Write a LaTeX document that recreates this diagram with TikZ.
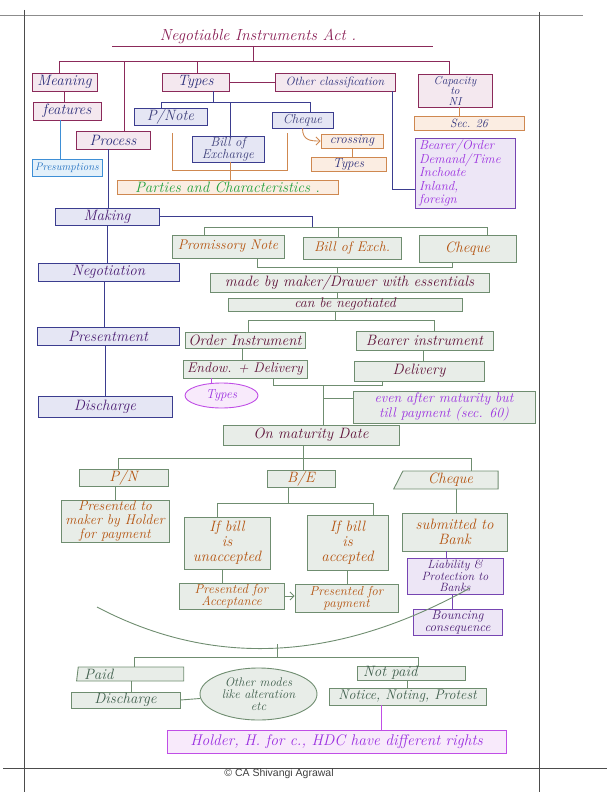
\documentclass[tikz,border=0pt]{standalone}
\usepackage{fontspec}
\newfontfamily\copyfont{Liberation Sans}
\usetikzlibrary{arrows.meta, shapes.geometric}
\definecolor{maroonline}{HTML}{8B2A5A}
\definecolor{pinkfill}{HTML}{F4E8EF}
\definecolor{navyline}{HTML}{3B3D8F}
\definecolor{bluefill}{HTML}{E5E6F4}
\definecolor{navytext}{HTML}{2B2E7A}
\definecolor{slatetext}{HTML}{3D3F7A}
\definecolor{orangeline}{HTML}{CF8850}
\definecolor{orangefill}{HTML}{FBEDE2}
\definecolor{greenline}{HTML}{6F8D70}
\definecolor{greenfill}{HTML}{E8EDE8}
\definecolor{browntext}{HTML}{B4530F}
\definecolor{wine}{HTML}{5E1238}
\definecolor{violettext}{HTML}{9B2FE0}
\definecolor{purpleline}{HTML}{7645B2}
\definecolor{purplefill}{HTML}{EDE6F6}
\definecolor{inkpurple}{HTML}{4A1C72}
\definecolor{skyline}{HTML}{3E8FD6}
\definecolor{skyfill}{HTML}{E3F0FA}
\definecolor{skytext}{HTML}{1E6EC0}
\definecolor{leaf}{HTML}{22A03A}
\definecolor{magline}{HTML}{C04EE6}
\definecolor{magfill}{HTML}{F8EAFB}
\definecolor{mossy}{HTML}{3F5E4C}
\definecolor{titlecol}{HTML}{8A1F55}
\tikzset{
  hand/.style={font=\fontsize{15}{15}\selectfont\itshape},
  handl/.style={font=\fontsize{14}{14}\selectfont\itshape},
  handm/.style={font=\fontsize{13}{12}\selectfont\itshape},
  hands/.style={font=\fontsize{12}{11}\selectfont\itshape},
  wh/.style 2 args={minimum width=#1pt, minimum height=#2pt},
  base/.style={draw, inner sep=0pt, align=center, line width=0.9pt, hand},
  pinkbox/.style={base, draw=maroonline, fill=pinkfill, text=navytext},
  bluebox/.style={base, draw=navyline, fill=bluefill, text=slatetext},
  navybox/.style={base, draw=navyline, fill=bluefill, text=inkpurple},
  orangebox/.style={base, draw=orangeline, fill=orangefill, text=navytext},
  skybox/.style={base, draw=skyline, fill=skyfill, text=skytext},
  greenbox/.style={base, draw=greenline, fill=greenfill, text=browntext},
  purplebox/.style={base, draw=purpleline, fill=purplefill, text=inkpurple},
  mline/.style={draw=maroonline, line width=0.9pt},
  nline/.style={draw=navyline, line width=0.9pt},
  oline/.style={draw=orangeline, line width=0.9pt},
  gline/.style={draw=greenline, line width=0.9pt},
  pline/.style={draw=magline, line width=0.9pt},
  qline/.style={draw=purpleline, line width=0.9pt},
  arr/.style={-{Straight Barb[length=4pt]}},
  framec/.style={draw=black!70, line width=0.8pt},
}
\begin{document}
\begin{tikzpicture}[x=1pt, y=-1pt]
  \useasboundingbox (0,0) rectangle (612,792);
  % page frame
  \draw[framec, draw=black!45] (0,15) -- (583,15);
  \draw[framec] (24,10) -- (24,792);
  \draw[framec] (539,12) -- (539,792);
  \draw[framec] (3,768) -- (607,768);
  \node[font=\copyfont\fontsize{10.5}{12}\selectfont, text=black!75] (credit) at (279,774) {© CA Shivangi Agrawal};

  % heading
  \node[font=\fontsize{16}{16}\selectfont\itshape, text=titlecol] (title) at (258,36) {Negotiable Instruments Act .};
  \coordinate (ulL) at (112,46);
  \coordinate (ulR) at (433,46);
  \coordinate (hub) at (253,61);

  % first level
  \node[pinkbox, wh={65}{18}] (meaning) at (64.5,82) {Meaning};
  \node[pinkbox, wh={68}{18}] (features) at (67,111) {features};
  \node[pinkbox, wh={74}{18}] (process) at (113,140) {Process};
  \node[pinkbox, wh={67}{18}] (types) at (195.5,82) {Types};
  \node[pinkbox, hands, wh={120}{18}] (other) at (335,82) {Other classification};
  \node[pinkbox, font=\fontsize{11.5}{10.5}\selectfont\itshape, wh={74}{33}] (capacity) at (455,90.5) {Capacity\\to\\NI};
  \node[orangebox, hands, wh={110}{14}] (sec) at (469,123) {Sec. 26};
  \node[skybox, font=\fontsize{11}{11}\selectfont\itshape, wh={70}{17}] (presume) at (67,167.5) {Presumptions};
  \node[purplebox, text=violettext, font=\fontsize{13}{13.5}\selectfont\itshape, text width=92pt, align=left, wh={100}{70}] (classes) at (465,173) {Bearer/Order\\Demand/Time\\Inchoate\\Inland,\\foreign};

  % types
  \node[bluebox, wh={73}{17}] (pnote) at (170.5,116.5) {P/Note};
  \node[bluebox, handm, wh={72}{26}] (boe) at (228,149) {Bill of\\Exchange};
  \node[bluebox, handm, wh={61}{16}] (cheque) at (302.5,120) {Cheque};
  \node[orangebox, handm, wh={62}{14}] (crossing) at (352,141) {crossing};
  \node[orangebox, handm, wh={75}{14}] (crosstypes) at (348.5,164) {Types};
  \node[orangebox, text=leaf, wh={221}{14}] (parties) at (227.5,187) {Parties and Characteristics .};

  % process column
  \node[navybox, wh={104}{17}] (making) at (107,216.5) {Making};
  \node[navybox, wh={141}{18}] (negotiation) at (108.5,272) {Negotiation};
  \node[navybox, wh={142}{18}] (presentment) at (108,336) {Presentment};
  \node[navybox, wh={134}{21}] (discharge) at (105,406.5) {Discharge};

  % making
  \node[greenbox, handl, wh={112}{23}] (promnote) at (228,246.5) {Promissory Note};
  \node[greenbox, handl, wh={98}{22}] (billexch) at (352,248) {Bill of Exch.};
  \node[greenbox, wh={97}{27}] (chq) at (467.5,248.5) {Cheque};
  \node[greenbox, text=wine, wh={279}{19}] (madeby) at (349.5,282.5) {made by maker/Drawer with essentials};
  \node[greenbox, handl, text=wine, wh={234}{13}] (canbe) at (345,304.5) {can be negotiated};

  % negotiation
  \node[greenbox, text=wine, wh={120}{16}] (order) at (245,340) {Order Instrument};
  \node[greenbox, text=wine, wh={137}{19}] (bearer) at (424.5,340.5) {Bearer instrument};
  \node[greenbox, handl, text=wine, wh={124}{18}] (endow) at (245,369) {Endow. + Delivery};
  \node[greenbox, text=wine, wh={130}{20}] (delivery) at (419,371) {Delivery};
  \node[base, ellipse, draw=magline, fill=magfill, text=violettext, handm, wh={73}{25}] (typesell) at (221.5,395.5) {Types};
  \node[greenbox, text=violettext, font=\fontsize{14}{13}\selectfont\itshape, wh={182}{32}] (evenafter) at (444,407) {even after maturity but\\till payment (sec. 60)};

  % presentment
  \node[greenbox, text=wine, wh={176}{20}] (maturity) at (311,435) {On maturity Date};
  \node[greenbox, wh={89}{17}] (pn) at (123.5,477.5) {P/N};
  \node[greenbox, wh={68}{17}] (be) at (301,478.5) {B/E};
  \node[greenbox, trapezium, trapezium left angle=72, trapezium right angle=90, trapezium stretches=true, wh={105}{18}] (chqpay) at (450.5,480) {Cheque};
  \node[greenbox, handl, wh={108}{42}] (tomaker) at (115,521) {Presented to\\maker by Holder\\for payment};
  \node[greenbox, wh={86}{52}] (unacc) at (227,543) {If bill\\is\\unaccepted};
  \node[greenbox, wh={81}{55}] (acc) at (347.5,542.5) {If bill\\is\\accepted};
  \node[greenbox, handm, wh={105}{26}] (foraccept) at (231.5,596) {Presented for\\Acceptance};
  \node[greenbox, handm, wh={103}{28}] (forpay) at (346.5,598) {Presented for\\payment};
  \node[greenbox, wh={105}{38}] (tobank) at (454.5,532) {submitted to\\Bank};
  \node[purplebox, font=\fontsize{12}{11.5}\selectfont\itshape, wh={96}{36}] (liability) at (455,576) {Liability \&\\Protection to\\Banks};
  \node[purplebox, handm, wh={89}{26}] (bouncing) at (457.5,622) {Bouncing\\consequence};

  % discharge
  \node[greenbox, trapezium, trapezium left angle=82, trapezium right angle=90, trapezium stretches=true, text=mossy, text width=94pt, align=left, wh={108}{14}] (paid) at (131,674) {Paid};
  \node[greenbox, text=mossy, wh={109}{16}] (paiddis) at (125.5,700) {Discharge};
  \node[base, ellipse, draw=greenline, fill=greenfill, text=mossy, font=\fontsize{12.5}{12}\selectfont\itshape, wh={117}{52}] (othermodes) at (258.5,694) {Other modes\\like alteration\\etc};
  \node[greenbox, text=mossy, text width=96pt, align=left, wh={108}{14}] (notpaid) at (411,673) {Not paid};
  \node[greenbox, handl, text=mossy, wh={157}{17}] (notice) at (407.5,696.5) {Notice, Noting, Protest};
  \node[base, draw=magline, fill=magfill, text=violettext, font=\fontsize{15.5}{15}\selectfont\itshape, wh={339}{23}] (holder) at (336.5,741.5) {Holder, H. for c., HDC have different rights};

  % heading links
  \draw[mline] (ulL) -- (ulR);
  \draw[mline] (hub |- ulL) -- (hub);
  \draw[mline] ([xshift=-5.5pt]meaning.north) |- ([xshift=-6pt]capacity.north |- hub) -- ([xshift=-6pt]capacity.north);
  \draw[mline] ([xshift=11pt]process.north) -- ([xshift=11pt]process.north |- hub);
  \draw[mline] ([xshift=1.5pt]types.north) -- ([xshift=1.5pt]types.north |- hub);
  \draw[mline] (meaning.south) -- (meaning.south |- features.north);
  \draw[mline] (types) -- (other);
  \draw[draw=skyline, line width=0.9pt] ([xshift=-7pt]features.south) -- ([xshift=-7pt]features.south |- presume.north);
  \draw[oline] ([xshift=4pt]capacity.south) -- ([xshift=4pt]capacity.south |- sec.north);
  \draw[nline] ([xshift=57pt]other.south) |- ([yshift=-16pt]classes.west);

  % types links
  \coordinate (tbar) at (213,102);
  \draw[nline] ([xshift=17.5pt]types.south) -- (tbar);
  \draw[nline] ([xshift=-9.5pt]pnote.north) |- ([xshift=7.5pt]cheque.north |- tbar) -- ([xshift=7.5pt]cheque.north);
  \draw[nline] ([xshift=2pt]boe.north) -- ([xshift=2pt]boe.north |- tbar);
  \draw[oline, arr] (cheque.south) .. controls ([yshift=-12pt]cheque.south) and ([xshift=-10pt]crossing.west) .. (crossing.west);
  \draw[oline] (crossing.south) -- (crossing.south |- crosstypes.north);
  \coordinate (pbar) at (230,170);
  \draw[oline] ([xshift=1.5pt,yshift=-8pt]pnote.south) |- ([xshift=-15.5pt]cheque.south |- pbar) -- ([xshift=-15.5pt,yshift=-5pt]cheque.south);
  \draw[oline] ([xshift=2pt]boe.south) -- ([xshift=2pt]boe.south |- parties.north);

  % process links
  \draw[nline] ([xshift=-5pt]process.south) -- ([xshift=-5pt]process.south |- making.north);
  \draw[nline] (making.south) -- (making.south |- negotiation.north);
  \draw[nline] ([xshift=-4pt]negotiation.south) -- ([xshift=-4pt]negotiation.south |- presentment.north);
  \draw[nline] ([xshift=-3pt]presentment.south) -- ([xshift=-3pt]presentment.south |- discharge.north);

  % making links
  \coordinate (gbar) at (312,227);
  \draw[nline] (making.east) -| (gbar);
  \draw[gline] ([xshift=-24pt]promnote.north) |- ([xshift=19.5pt]chq.north |- gbar) -- ([xshift=19.5pt]chq.north);
  \draw[gline] ([xshift=-14pt]billexch.north) -- ([xshift=-14pt]billexch.north |- gbar);
  \coordinate (bbar) at (337,267);
  \draw[gline] ([xshift=29pt]promnote.south) |- ([xshift=-15.5pt]chq.south |- bbar) -- ([xshift=-15.5pt]chq.south);
  \draw[gline] (bbar) -- (bbar |- madeby.north);
  \draw[gline] (madeby.south -| bbar) -- (canbe.north -| bbar);

  % negotiation links
  \coordinate (cbar) at (335,320);
  \draw[gline] (canbe.south -| cbar) -- (cbar);
  \draw[gline] ([xshift=3pt]order.north) |- ([xshift=9.5pt]bearer.north |- cbar) -- ([xshift=9.5pt]bearer.north);
  \draw[gline] ([xshift=-3pt]order.south) -- ([xshift=-3pt]order.south |- endow.north);
  \draw[gline] ([xshift=-1.5pt]bearer.south) -- ([xshift=-1.5pt]bearer.south |- delivery.north);
  \draw[pline] ([xshift=-34pt]endow.south) -- ([xshift=-34pt]endow.south |- typesell.north);
  \coordinate (ebar) at (323,385);
  \draw[gline] ([xshift=28pt]endow.south) |- ([xshift=-37pt]delivery.south |- ebar) -- ([xshift=-37pt]delivery.south);
  \draw[gline] (ebar) -- (ebar |- maturity.north);
  \draw[gline] ([yshift=9pt]evenafter.west -| ebar) -- ([yshift=9pt]evenafter.west);

  % presentment links
  \coordinate (mbar) at (303,458);
  \draw[gline] ([xshift=-8pt]maturity.south) -- ([xshift=-8pt]maturity.south |- be.north);
  \draw[gline] ([xshift=-5.5pt]pn.north) |- ([xshift=20.5pt]chqpay.north |- mbar) -- ([xshift=20.5pt]chqpay.north);
  \draw[gline] ([xshift=-8.5pt]pn.south) -- ([xshift=-8.5pt]pn.south |- tomaker.north);
  \coordinate (bebar) at (288,503);
  \draw[gline] ([xshift=-13pt]be.south) -- (bebar);
  \draw[gline] ([xshift=-10pt]unacc.north) |- ([xshift=25.5pt]acc.north |- bebar) -- ([xshift=25.5pt]acc.north);
  \draw[gline] ([xshift=-5pt]unacc.south) -- ([xshift=-5pt]unacc.south |- foraccept.north);
  \draw[gline] (acc.south) -- (acc.south |- forpay.north);
  \draw[gline, arr] (foraccept.east) -- (foraccept.east -| forpay.west);
  \draw[gline] ([xshift=5.5pt]chqpay.south) -- ([xshift=5.5pt]chqpay.south |- tobank.north);
  \draw[qline] ([xshift=-8.5pt]tobank.south) -- ([xshift=-8.5pt]tobank.south |- liability.north);
  \draw[qline] ([xshift=-3pt]liability.south) -- ([xshift=-3pt]liability.south |- bouncing.north);

  % outcome links
  \coordinate (arcl) at (97,607);
  \coordinate (arcr) at (470,588);
  \coordinate (arcb) at (277,644);
  \coordinate (obar) at (277,657);
  \draw[gline] (arcl) .. controls (213,668) and (337,662) .. (arcr);
  \draw[gline] (arcb) -- (obar);
  \draw[gline] ([xshift=3pt]paid.north) |- ([xshift=7pt]notpaid.north |- obar) -- ([xshift=7pt]notpaid.north);
  \draw[gline] (paid.south) -- (paid.south |- paiddis.north);
  \draw[gline] (paiddis.east) -- (othermodes);
  \draw[gline] ([xshift=-4pt]notpaid.south) -- ([xshift=-4pt]notpaid.south |- notice.north);
  \draw[pline] ([xshift=-26.5pt]notice.south) -- ([xshift=-26.5pt]notice.south |- holder.north);
\end{tikzpicture}
\end{document}
